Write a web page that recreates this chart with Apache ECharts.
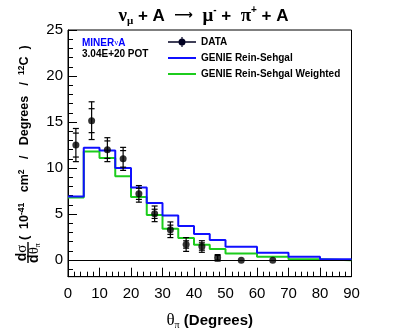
<!DOCTYPE html>
<html><head><meta charset="utf-8">
<script src="https://cdn.jsdelivr.net/npm/echarts@6/dist/echarts.min.js"></script>
<style>html,body{margin:0;padding:0;background:#fff}#c{width:407px;height:328px}</style>
</head><body><div id="c"></div>
<script>
// ---- data ----
const binEdges = [0, 5, 10, 15, 20, 25, 30, 35, 40, 45, 50, 60, 70, 80, 90];
const genie = [6.9, 12.2, 11.9, 10.0, 7.9, 6.2, 4.85, 3.7, 2.85, 2.2, 1.45, 0.8, 0.36, 0.1];
const genieWeighted = [6.8, 11.8, 11.1, 9.1, 6.85, 4.9, 3.4, 2.4, 1.68, 1.2, 0.72, 0.36, 0.1, 0.0];
const dataX = [2.5, 7.5, 12.5, 17.5, 22.5, 27.5, 32.5, 37.5, 42.5, 47.5, 55, 65];
const dataY = [12.5, 15.15, 12.0, 11.0, 7.2, 5.03, 3.3, 1.7, 1.48, 0.25, 0.0, 0.0];
const errTotal = [1.8, 2.05, 1.3, 1.25, 0.9, 0.85, 0.85, 0.75, 0.63, 0.35, 0, 0];
const errStat = [1.3, 1.3, 0.95, 0.9, 0.6, 0.5, 0.5, 0.4, 0.4, 0.25, 0, 0];
const yMajorTicks = [0, 5, 10, 15, 20, 25];
const yMinorTicks = [-1, 0, 1, 2, 3, 4, 5, 6, 7, 8, 9, 10, 11, 12, 13, 14, 15, 16, 17, 18, 19, 20, 21, 22, 23, 24, 25];
const seriesNames = ['DATA', 'GENIE Rein-Sehgal', 'GENIE Rein-Sehgal Weighted'];

function stepData(vals) {
  return binEdges.map((e, i) => [e, i < vals.length ? vals[i] : vals[vals.length - 1]]);
}

const SANS = 'Liberation Sans, Arial, sans-serif';
const SERIF = 'Liberation Serif, DejaVu Serif, serif';
const chart = echarts.init(document.getElementById('c'), null, {renderer: 'canvas'});

const dataIcon = 'path://M0,4.3 L28,4.3 L28,5.7 L0,5.7 Z M13.4,0 L14.6,0 L14.6,10 L13.4,10 Z M10.5,5 a3.5,3.5 0 1,1 7,0 a3.5,3.5 0 1,1 -7,0 Z';
const lineIcon = 'path://M0,4 L28,4 L28,6 L0,6 Z';

chart.setOption({
  animation: false,
  backgroundColor: '#fff',
  title: {
    text: '{g|ν}{sub|μ}{b| + A  }{a|⟶}{g|  μ}{sup|-}{b| +  }{g|π}{sup|+}{b| + A}',
    left: 'center',
    top: 0,
    textStyle: {
      rich: {
        g: {fontFamily: SERIF, fontSize: 19, color: '#000', lineHeight: 22},
        a: {fontFamily: 'DejaVu Sans', fontSize: 13, color: '#000', lineHeight: 22},
        sub: {fontFamily: SERIF, fontSize: 11, color: '#000', verticalAlign: 'bottom', lineHeight: 22},
        sup: {fontFamily: SANS, fontSize: 10, fontWeight: 'bold', color: '#000', verticalAlign: 'top', lineHeight: 22},
        b: {fontFamily: SANS, fontSize: 17, fontWeight: 'bold', color: '#000', lineHeight: 22}
      }
    }
  },
  legend: {
    orient: 'vertical',
    left: 163,
    top: 32,
    itemWidth: 28,
    itemHeight: 10,
    itemGap: 6,
    data: [
      {name: seriesNames[0], icon: dataIcon, itemStyle: {color: '#000022', opacity: 1}},
      {name: seriesNames[1], icon: lineIcon},
      {name: seriesNames[2], icon: lineIcon}
    ],
    textStyle: {fontFamily: SANS, fontSize: 10, fontWeight: 'bold', color: '#000'}
  },
  grid: {left: 68, top: 30, right: 55.5, bottom: 51.3, outerBoundsMode: 'none', containLabel: false,
         show: true, borderColor: '#000', borderWidth: 1, backgroundColor: 'transparent'},
  xAxis: {
    type: 'value', min: 0, max: 90, interval: 10,
    axisLine: {onZero: false, lineStyle: {color: '#000', width: 1}},
    axisTick: {inside: true, length: 9, lineStyle: {color: '#000'}},
    minorTick: {show: true, splitNumber: 5, length: 5, lineStyle: {color: '#000'}},
    axisLabel: {fontFamily: SANS, fontSize: 15, color: '#000', margin: 10},
    splitLine: {show: false},
    name: '{t|θ}{s|π}{b| (Degrees)}',
    nameLocation: 'middle',
    nameGap: 34,
    nameTextStyle: {
      rich: {
        t: {fontFamily: SERIF, fontSize: 17, color: '#000', lineHeight: 20},
        s: {fontFamily: SERIF, fontSize: 10, color: '#000', verticalAlign: 'bottom', lineHeight: 20},
        b: {fontFamily: SANS, fontSize: 15, fontWeight: 'bold', color: '#000', lineHeight: 20}
      }
    }
  },
  yAxis: [
    {
      type: 'value', min: -1.8, max: 25, position: 'left',
      axisLine: {show: true, onZero: false, lineStyle: {color: '#000', width: 1}},
      axisTick: {show: true, inside: true, length: 9, customValues: yMajorTicks, lineStyle: {color: '#000'}},
      axisLabel: {customValues: yMajorTicks, fontFamily: SANS, fontSize: 15, color: '#000', margin: 5},
      splitLine: {show: false}
    },
    {
      type: 'value', min: -1.8, max: 25, position: 'left', offset: 0,
      axisLine: {show: false},
      axisTick: {show: true, inside: true, length: 5, customValues: yMinorTicks, lineStyle: {color: '#000'}},
      axisLabel: {show: false},
      splitLine: {show: false}
    }
  ],
  graphic: [
    {
      type: 'text', left: 82, top: 38, z: 10,
      style: {
        text: '{b|MINER}{n|ν}{b|A}',
        rich: {
          b: {fontFamily: SANS, fontSize: 10, fontWeight: 'bold', fill: '#0000ff'},
          n: {fontFamily: SERIF, fontSize: 9, fill: '#0000ff'}
        }
      }
    },
    {
      type: 'text', left: 82, top: 49, z: 10,
      style: {text: '3.04E+20 POT', font: 'bold 10px ' + SANS, fill: '#000'}
    },
    {
      type: 'group', rotation: Math.PI / 2, x: 0, y: 263,
      children: [
        {type: 'text', x: 10, y: 22, style: {
          text: '{b|d}{g|σ}', align: 'center', verticalAlign: 'middle',
          rich: {b: {fontFamily: SANS, fontSize: 14, fontWeight: 'bold', fill: '#000'},
                 g: {fontFamily: SERIF, fontSize: 15, fill: '#000'}}}},
        {type: 'line', shape: {x1: 0, y1: 28, x2: 21, y2: 28}, style: {stroke: '#000', lineWidth: 1.4}},
        {type: 'text', x: 10, y: 34.5, style: {
          text: '{b|d}{g|θ}{s|π}', align: 'center', verticalAlign: 'middle',
          rich: {b: {fontFamily: SANS, fontSize: 14, fontWeight: 'bold', fill: '#000', lineHeight: 14},
                 g: {fontFamily: SERIF, fontSize: 15, fill: '#000', lineHeight: 14},
                 s: {fontFamily: SERIF, fontSize: 8, fill: '#000', verticalAlign: 'bottom', lineHeight: 14}}}},
        {type: 'text', x: 23, y: 25, style: {
          text: '{b|(  10}{p|-41}{b|   cm}{p|2}{b|   /   Degrees   /  }{p|12}{b|C  )}',
          align: 'left', verticalAlign: 'middle',
          rich: {b: {fontFamily: SANS, fontSize: 12.5, fontWeight: 'bold', fill: '#000', lineHeight: 16},
                 p: {fontFamily: SANS, fontSize: 8.5, fontWeight: 'bold', fill: '#000', verticalAlign: 'top', lineHeight: 16}}}}
      ]
    }
  ],
  series: [
    {
      name: seriesNames[2], type: 'line', step: 'end', symbol: 'none',
      data: stepData(genieWeighted),
      lineStyle: {color: '#1ccc1c', width: 2}, itemStyle: {color: '#1ccc1c'}, z: 3
    },
    {
      name: seriesNames[1], type: 'line', step: 'end', symbol: 'none',
      data: stepData(genie),
      lineStyle: {color: '#1010ff', width: 2}, itemStyle: {color: '#1010ff'}, z: 3,
      markLine: {
        silent: true, symbol: 'none', label: {show: false},
        lineStyle: {color: '#000', width: 1, type: 'solid'},
        data: [{yAxis: 0}]
      }
    },
    {
      name: 'errors', type: 'custom', z: 5,
      data: dataX.map((x, i) => [x, dataY[i], errTotal[i], errStat[i]]),
      renderItem: function (params, api) {
        const x = api.value(0), y = api.value(1), et = api.value(2), es = api.value(3);
        if (et <= 0) return null;
        const top = api.coord([x, y + et]);
        const bot = api.coord([x, y - et]);
        const st = api.coord([x, y + es]);
        const sb = api.coord([x, y - es]);
        const w = 3;
        const style = {stroke: '#000', lineWidth: 1.2};
        const cap = (p) => ({type: 'line', shape: {x1: p[0] - w, y1: p[1], x2: p[0] + w, y2: p[1]}, style: style});
        return {
          type: 'group',
          children: [
            {type: 'line', shape: {x1: top[0], y1: top[1], x2: bot[0], y2: bot[1]}, style: style},
            cap(top), cap(bot), cap(st), cap(sb)
          ]
        };
      }
    },
    {
      name: seriesNames[0], type: 'scatter', z: 6,
      data: dataX.map((x, i) => [x, dataY[i]]),
      symbol: 'circle', symbolSize: 7,
      itemStyle: {color: '#000'}
    }
  ]
});
</script>
</body></html>
